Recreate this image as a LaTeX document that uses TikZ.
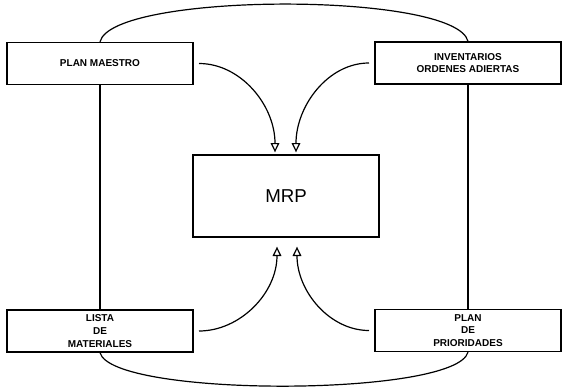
\documentclass[tikz,border=0pt]{standalone}
\usepackage{fontspec}
\setmainfont{Liberation Sans}
\usetikzlibrary{arrows.meta,calc}

\begin{document}
\begin{tikzpicture}[x=0.75pt, y=-0.75pt,
  block/.style={draw, line width=1pt, align=center, inner sep=0pt,
    minimum width=139.5pt, minimum height=31.5pt,
    font=\fontsize{7.5}{9.5}\selectfont\bfseries},
  core/.style={draw, line width=1pt, inner sep=0pt,
    minimum width=139.5pt, minimum height=61.5pt,
    font=\fontsize{14}{16}\selectfont},
  flow/.style={-{Triangle[open, length=7pt, width=6.5pt]}, line width=0.9pt},
  link/.style={line width=0.9pt}
]
\useasboundingbox (0,0) rectangle (562,389);

% Inputs and planning blocks.
\node[block] (plan) at (100,63.5) {PLAN MAESTRO};
\node[block] (inv) at (468,63) {INVENTARIOS\\ORDENES ADIERTAS};
\node[block] (lista) at (100,331) {LISTA\\DE\\MATERIALES};
\node[block] (prio) at (468,330.5) {PLAN\\DE\\PRIORIDADES};
\node[core] (mrp) at (286,196) {MRP};

% Outer ring.
\draw[link] (plan.north) .. controls +(12,-50) and +(-12,-50) .. (inv.north);
\draw[link] (lista.south) .. controls +(12,45) and +(-12,45) .. (prio.south);
\draw[link] (plan.south) -- (lista.north);
\draw[link] (inv.south) -- (prio.north);

% Feeds into MRP.
\draw[flow, shorten <=4pt] (plan.east) to[out=0, in=90] ($(mrp.north)+(-11,-2)$);
\draw[flow, shorten <=4pt] (inv.west) to[out=180, in=90] ($(mrp.north)+(10,-2)$);
\draw[flow, shorten <=4pt] (lista.east) to[out=0, in=-90] ($(mrp.south)+(-9,9)$);
\draw[flow, shorten <=4pt] (prio.west) to[out=180, in=-90] ($(mrp.south)+(11,9)$);

\end{tikzpicture}
\end{document}
